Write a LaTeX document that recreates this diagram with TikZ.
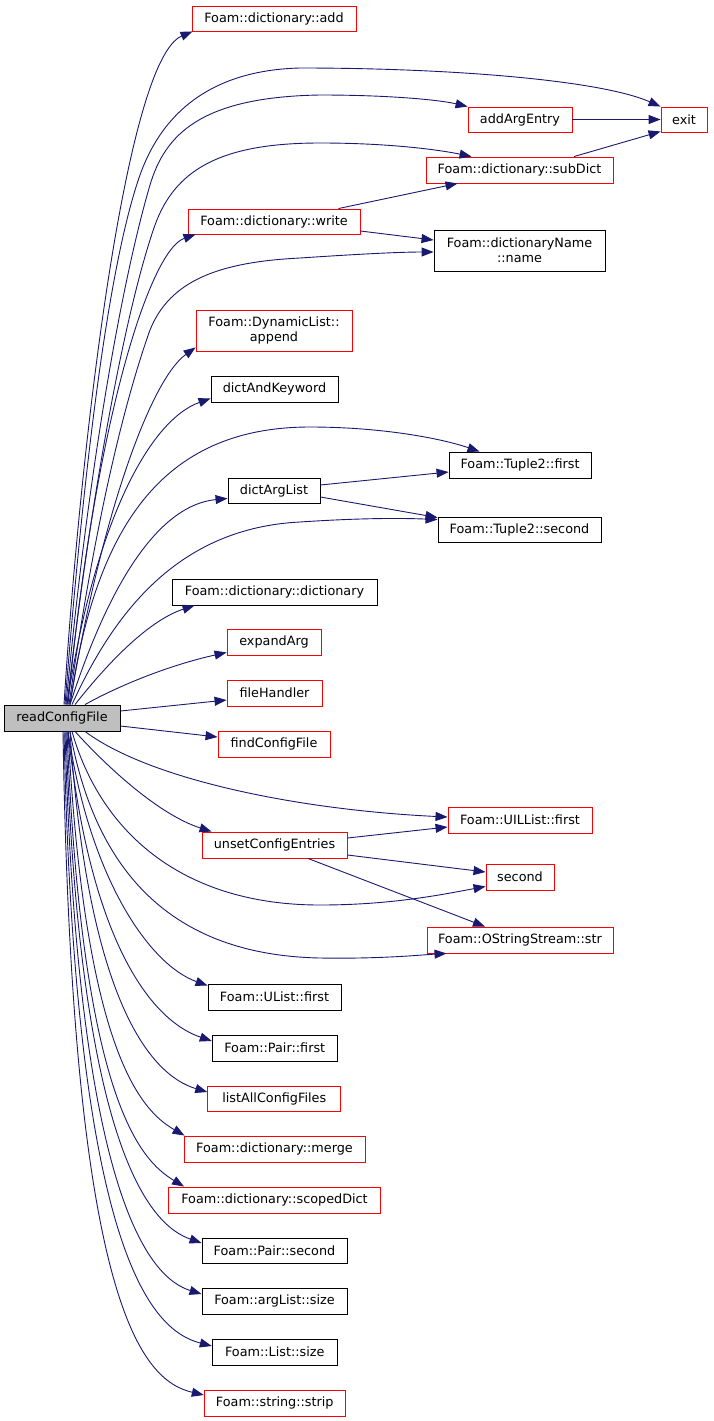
\documentclass[tikz,border=0pt]{standalone}
\usepackage{fontspec}
\setmainfont{DejaVu Sans}
\usetikzlibrary{arrows.meta}
\definecolor{edgec}{RGB}{25,25,112}
\definecolor{boxred}{RGB}{255,0,0}
\definecolor{rootfill}{RGB}{191,191,191}
\tikzset{
  nbox/.style={draw=black, line width=0.9pt, rectangle, inner sep=0pt, align=center,
    font=\fontsize{12.8}{15}\selectfont, fill=white},
  rbox/.style={nbox, draw=boxred},
  rootbox/.style={nbox, fill=rootfill},
  wh/.style 2 args={minimum width=#1pt, minimum height=#2pt},
  callarrow/.style={draw=edgec, line width=0.9pt, -{Triangle[length=12pt,width=9pt]}},
}
\begin{document}
\begin{tikzpicture}[x=1pt,y=-1pt]
\useasboundingbox (0,0) rectangle (713,1421);
% nodes
\node[rootbox, wh={116}{26}] (rcf) at (62,718) {readConfigFile};
\node[rbox, wh={164}{25}] (add) at (274,18.5) {Foam::dictionary::add};
\node[rbox, wh={46}{25}] (exit) at (684,119.5) {exit};
\node[rbox, wh={104}{25}] (aae) at (520,119.5) {addArgEntry};
\node[rbox, wh={187}{26}] (subDict) at (519.5,170) {Foam::dictionary::subDict};
\node[rbox, wh={172}{25}] (write) at (274,221.5) {Foam::dictionary::write};
\node[nbox, wh={171}{41}] (dname) at (519.5,250.5) {Foam::dictionaryName\\::name};
\node[rbox, wh={156}{41}] (append) at (274,330.5) {Foam::DynamicList::\\append};
\node[nbox, wh={127}{26}] (dak) at (274.5,389) {dictAndKeyword};
\node[nbox, wh={142}{26}] (tfirst) at (520,465) {Foam::Tuple2::first};
\node[nbox, wh={92}{25}] (dal) at (274,490.5) {dictArgList};
\node[nbox, wh={163}{25}] (tsecond) at (519.5,529.5) {Foam::Tuple2::second};
\node[nbox, wh={205}{26}] (ddict) at (274.5,592) {Foam::dictionary::dictionary};
\node[rbox, wh={94}{26}] (expand) at (274,642) {expandArg};
\node[rbox, wh={95}{26}] (fileh) at (274.5,693) {fileHandler};
\node[rbox, wh={112}{26}] (findc) at (274,744) {findConfigFile};
\node[rbox, wh={144}{26}] (uilfirst) at (520,820) {Foam::UILList::first};
\node[rbox, wh={145}{26}] (unset) at (274.5,845) {unsetConfigEntries};
\node[rbox, wh={68}{26}] (second) at (520,877) {second};
\node[rbox, wh={186}{26}] (ostr) at (520,940) {Foam::OStringStream::str};
\node[nbox, wh={133}{26}] (ulfirst) at (274.5,997) {Foam::UList::first};
\node[nbox, wh={125}{26}] (pfirst) at (274.75,1048) {Foam::Pair::first};
\node[rbox, wh={133}{25}] (listall) at (274.25,1098.5) {listAllConfigFiles};
\node[rbox, wh={181}{26}] (merge) at (274.5,1149) {Foam::dictionary::merge};
\node[rbox, wh={212}{26}] (scoped) at (274.5,1200) {Foam::dictionary::scopedDict};
\node[nbox, wh={145}{25}] (psecond) at (274.5,1250.5) {Foam::Pair::second};
\node[nbox, wh={145}{26}] (argsize) at (274.5,1301) {Foam::argList::size};
\node[nbox, wh={125}{26}] (listsize) at (274.75,1352) {Foam::List::size};
\node[rbox, wh={141}{26}] (strip) at (274.75,1403) {Foam::string::strip};
% upward edges from readConfigFile
\draw[callarrow] ([xshift=2pt]rcf.north) .. controls (80,450) and (125,60) .. ([xshift=1pt]add.south west);
\draw[callarrow] ([xshift=3pt]rcf.north) .. controls (85,450) and (110,260) .. (140,175) .. controls (165,105) and (220,70) .. (300,68) .. controls (450,68) and (600,80) .. (exit.north west);
\draw[callarrow] ([xshift=4pt]rcf.north) .. controls (88,470) and (122,280) .. (150,185) .. controls (165,135) and (200,97) .. (320,95) .. controls (390,95) and (440,100) .. (aae.north west);
\draw[callarrow] ([xshift=5pt]rcf.north) .. controls (90,500) and (125,310) .. (155,225) .. controls (175,170) and (220,143) .. (320,143) .. controls (390,143) and (440,150) .. ([xshift=46pt]subDict.north west);
\draw[callarrow] ([xshift=6pt]rcf.north) .. controls (95,420) and (150,250) .. ([xshift=8pt]write.south west);
\draw[callarrow] ([xshift=7pt]rcf.north) .. controls (95,520) and (125,400) .. (150,330) .. controls (170,280) and (220,262) .. (300,258) .. controls (360,254) and (400,252) .. ([yshift=-1.5pt]dname.west);
\draw[callarrow] ([xshift=8pt]rcf.north) .. controls (100,520) and (150,380) .. ([yshift=4pt]append.south west);
\draw[callarrow] ([xshift=5pt]rcf.north) .. controls (95,520) and (150,420) .. ([yshift=4pt]dak.south west);
\draw[callarrow] ([xshift=8pt]rcf.north) .. controls (95,530) and (160,427) .. (310,427) .. controls (380,427) and (440,438) .. ([xshift=31pt]tfirst.north west);
\draw[callarrow] ([xshift=8pt]rcf.north) .. controls (110,580) and (160,505) .. ([yshift=5pt]dal.south west);
\draw[callarrow] ([xshift=10pt]rcf.north) .. controls (115,610) and (180,528) .. (300,522) .. controls (360,518) and (400,518) .. ([yshift=-3pt]tsecond.north west);
\draw[callarrow] ([xshift=13pt]rcf.north) .. controls (110,660) and (150,620) .. ([xshift=23pt]ddict.south west);
\draw[callarrow] ([xshift=23pt]rcf.north) .. controls (120,685) and (170,665) .. ([yshift=3pt]expand.south west);
\draw[callarrow] ([yshift=7pt]rcf.east) -- ([yshift=-7pt]fileh.west);
\draw[callarrow] ([yshift=-8pt]rcf.east) -- ([yshift=7pt]findc.west);
% downward edges from readConfigFile
\draw[callarrow] ([xshift=23pt]rcf.south) .. controls (150,780) and (300,810) .. ([yshift=3pt]uilfirst.west);
\draw[callarrow] ([xshift=13pt]rcf.south) .. controls (110,770) and (160,815) .. ([xshift=10pt]unset.north west);
\draw[callarrow] ([xshift=10pt]rcf.south) .. controls (100,830) and (180,905) .. (320,905) .. controls (390,905) and (440,895) .. ([yshift=4pt]second.south west);
\draw[callarrow] ([xshift=8pt]rcf.south) .. controls (95,870) and (170,955) .. (320,958) .. controls (380,959) and (420,955) .. ([xshift=20pt]ostr.south west);
\draw[callarrow] ([xshift=6pt]rcf.south) .. controls (90,880) and (150,965) .. ([yshift=-2pt]ulfirst.north west);
\draw[callarrow] ([xshift=6pt]rcf.south) .. controls (90,940) and (150,1020) .. ([yshift=7pt]pfirst.west);
\draw[callarrow] ([xshift=8pt]rcf.south) .. controls (88,1000) and (150,1075) .. ([yshift=6.5pt]listall.west);
\draw[callarrow] ([xshift=6pt]rcf.south) .. controls (85,1050) and (140,1110) .. ([xshift=1pt]merge.north west);
\draw[callarrow] ([xshift=5pt]rcf.south) .. controls (82,1100) and (140,1160) .. ([xshift=16pt]scoped.north west);
\draw[callarrow] ([xshift=4pt]rcf.south) .. controls (80,1150) and (150,1225) .. ([yshift=7.5pt]psecond.west);
\draw[callarrow] ([xshift=3pt]rcf.south) .. controls (78,1200) and (150,1278) .. ([yshift=7pt]argsize.west);
\draw[callarrow] ([xshift=2pt]rcf.south) .. controls (75,1250) and (150,1330) .. ([yshift=6pt]listsize.west);
\draw[callarrow] ([xshift=1pt]rcf.south) .. controls (72,1300) and (140,1380) .. ([yshift=8pt]strip.west);
% other edges
\draw[callarrow] (aae.east) -- (exit.west);
\draw[callarrow] ([xshift=54.5pt]subDict.north) -- ([yshift=1pt]exit.south west);
\draw[callarrow] ([xshift=-22pt]write.north east) -- ([xshift=32pt]subDict.south west);
\draw[callarrow] ([yshift=-9.5pt]write.east) -- ([yshift=10.5pt]dname.west);
\draw[callarrow] ([yshift=5.5pt]dal.east) -- ([yshift=-7pt]tfirst.west);
\draw[callarrow] ([yshift=-6.5pt]dal.east) -- ([yshift=-1pt]tsecond.north west);
\draw[callarrow] ([yshift=7pt]unset.east) -- ([yshift=-7pt]uilfirst.west);
\draw[callarrow] ([yshift=-10pt]unset.east) -- ([yshift=5pt]second.west);
\draw[callarrow] ([xshift=33.5pt]unset.south) -- ([xshift=-35pt]ostr.north);
\end{tikzpicture}
\end{document}
